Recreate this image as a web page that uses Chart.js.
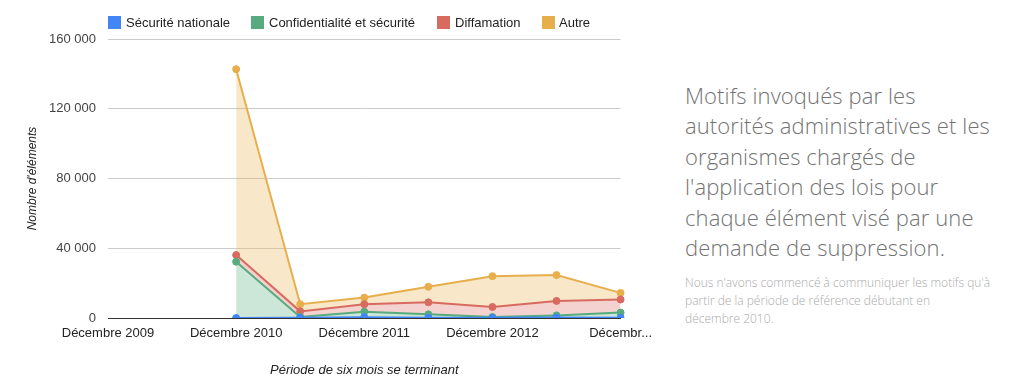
<!DOCTYPE html>
<html>
<head>
<meta charset="utf-8">
<script src="https://cdn.jsdelivr.net/npm/chart.js@4.4.1/dist/chart.umd.min.js"></script>
<style>
  html, body { margin: 0; padding: 0; background: #fff; width: 1012px; height: 382px; overflow: hidden; }
  #wrap { position: absolute; left: 0; top: 0; width: 660px; height: 382px; }
  .leg { position: absolute; top: 15px; font: 13px "Liberation Sans", Arial, sans-serif; color: #222; white-space: nowrap; }
  .leg span.sw { display: inline-block; width: 13px; height: 13px; vertical-align: top; margin-top: 1px; }
  .leg span.tx { position: absolute; top: 0; }
  #side { position: absolute; left: 685px; top: 80px; width: 327px; white-space: nowrap; }
  #side .big { font-family: "Open Sans", sans-serif; font-weight: 300; font-size: 22px; letter-spacing: 0.1px; line-height: 30.4px; color: #737373; }
  #side .small { margin-top: 12px; font-family: "Open Sans", sans-serif; font-weight: 300; font-size: 12px; line-height: 18px; color: #aaa; }
</style>
</head>
<body>
<div id="wrap"><canvas id="c" width="660" height="382"></canvas></div>
<div id="legend"></div>
<div id="side">
  <div class="big">Motifs invoqués par les<br>autorités administratives et les<br>organismes chargés de<br>l'application des lois pour<br>chaque élément visé par une<br>demande de suppression.</div>
  <div class="small">Nous n'avons commencé à communiquer les motifs qu'à<br>partir de la période de référence débutant en<br>décembre 2010.</div>
</div>
<script>
const categories = ['Décembre 2009','Juin 2010','Décembre 2010','Juin 2011','Décembre 2011','Juin 2012','Décembre 2012','Juin 2013','Décembre 2013'];
const tickLabels = ['Décembre 2009','','Décembre 2010','','Décembre 2011','','Décembre 2012','','Décembr...'];
const yTicks = [0, 40000, 80000, 120000, 160000];
const seriesNames = ['Sécurité nationale','Confidentialité et sécurité','Diffamation','Autre'];
const securiteNationale = [null, null, 0, 100, 500, 200, 100, 300, 100];
const confidentialite   = [null, null, 32300, 500, 3100, 1900, 500, 1200, 3000];
const diffamation       = [null, null, 3800, 3200, 4300, 6900, 5700, 8300, 7500];
const autre             = [null, null, 106600, 4100, 3800, 8900, 17700, 14800, 3800];

const colors = ['#4285f4', '#57ab7e', '#d86b60', '#e7ae4c'];
const fills  = ['rgba(66,133,244,0.3)', 'rgba(87,171,126,0.3)', 'rgba(216,107,96,0.3)', 'rgba(231,174,76,0.3)'];
const seriesData = [securiteNationale, confidentialite, diffamation, autre];

// HTML legend
const legPos = [[108,126],[251,269],[437,455],[542,559]];
const legend = document.getElementById('legend');
seriesNames.forEach((n, i) => {
  const d = document.createElement('div');
  d.className = 'leg';
  d.style.left = legPos[i][0] + 'px';
  d.innerHTML = '<span class="sw" style="background:' + colors[i] + '"></span><span class="tx" style="left:' + (legPos[i][1]-legPos[i][0]) + 'px">' + n + '</span>';
  legend.appendChild(d);
});

const fmt = v => String(v).replace(/\B(?=(\d{3})+(?!\d))/g, ' ');

new Chart(document.getElementById('c'), {
  type: 'line',
  data: {
    labels: categories,
    datasets: seriesData.map((d, i) => ({
      label: seriesNames[i],
      data: d,
      borderColor: colors[i],
      backgroundColor: fills[i],
      pointBackgroundColor: colors[i],
      pointBorderColor: colors[i],
      pointRadius: 3.5,
      pointBorderWidth: 1,
      pointHoverRadius: 3.5,
      borderWidth: 2,
      tension: 0,
      fill: i === 0 ? 'origin' : '-1',
      spanGaps: false
    }))
  },
  options: {
    responsive: false,
    animation: false,
    layout: { padding: { top: 39, right: 38, left: 0, bottom: 0 } },
    plugins: { legend: { display: false }, tooltip: { enabled: false } },
    scales: {
      x: {
        offset: false,
        grid: { display: false, drawTicks: false },
        border: { display: true, color: '#333', width: 1 },
        ticks: {
          autoSkip: false, maxRotation: 0, minRotation: 0, padding: 8,
          color: '#222', font: { family: '"Liberation Sans", Arial, sans-serif', size: 13 },
          callback: (v, i) => tickLabels[i]
        },
        title: {
          display: true, text: 'Période de six mois se terminant', color: '#222',
          font: { family: '"Liberation Sans", Arial, sans-serif', size: 13, style: 'italic' },
          padding: { top: 0, bottom: 4 }
        },
        afterFit: s => { s.height = 64; }
      },
      y: {
        stacked: true,
        min: 0, max: 160000,
        afterBuildTicks: s => { s.ticks = yTicks.map(v => ({ value: v })); },
        grid: { color: '#cccccc', drawTicks: false, lineWidth: 1 },
        border: { display: false },
        ticks: {
          padding: 12, color: '#444',
          font: { family: '"Liberation Sans", Arial, sans-serif', size: 13 },
          callback: v => fmt(v)
        },
        title: {
          display: true, text: "Nombre d'éléments", color: '#222',
          font: { family: '"Liberation Sans", Arial, sans-serif', size: 12, style: 'italic' },
          padding: { top: 25, bottom: 0 }
        },
        afterFit: s => { s.width = 108; }
      }
    }
  }
});
</script>
</body>
</html>
